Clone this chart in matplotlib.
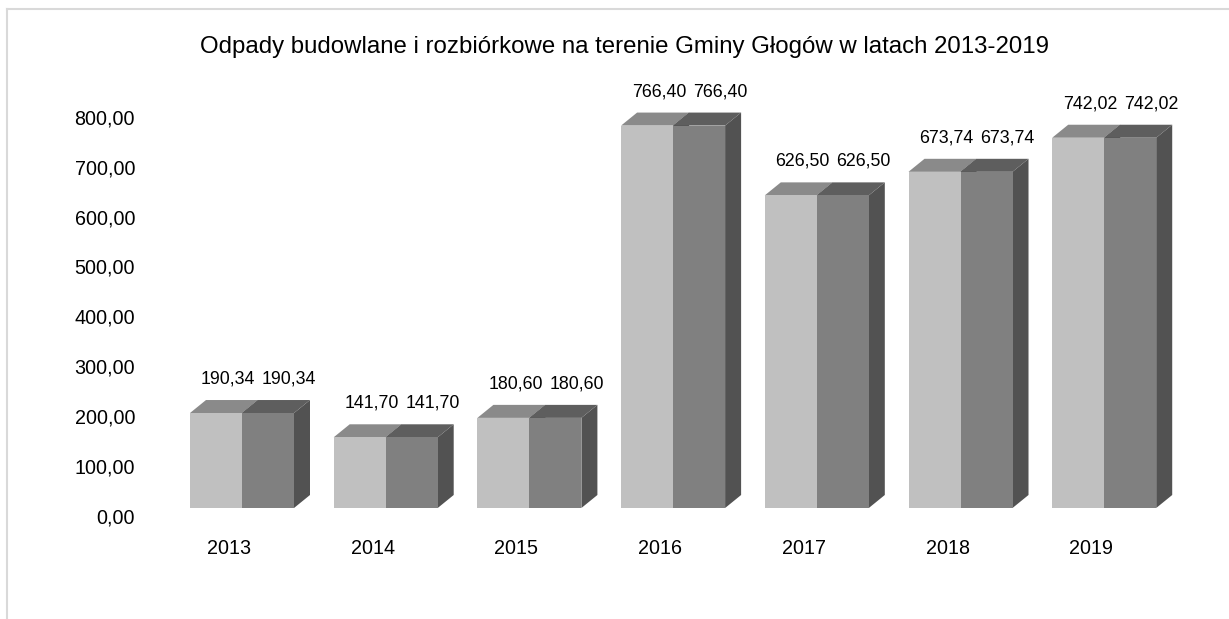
import matplotlib
matplotlib.use("Agg")
import matplotlib.pyplot as plt
from matplotlib.patches import Polygon
from matplotlib.lines import Line2D
from matplotlib.transforms import blended_transform_factory
import numpy as np

plt.rcParams['font.family'] = ['Liberation Sans', 'DejaVu Sans']

title = "Odpady budowlane i rozbiórkowe na terenie Gminy Głogów w latach 2013-2019"
years = ["2013", "2014", "2015", "2016", "2017", "2018", "2019"]
series_a = [190.34, 141.70, 180.60, 766.40, 626.50, 673.74, 742.02]
series_b = [190.34, 141.70, 180.60, 766.40, 626.50, 673.74, 742.02]
y_ticks = [0, 100, 200, 300, 400, 500, 600, 700, 800]

W, H, DPI = 1229, 619, 100
fig = plt.figure(figsize=(W / DPI, H / DPI), dpi=DPI)
fig.patch.set_facecolor('white')

ax_left_px, ax_right_px = 170.15, 1204.8
ax_bottom_px, ax_height_px = 111, 499
ax = fig.add_axes([ax_left_px / W, ax_bottom_px / H,
                   (ax_right_px - ax_left_px) / W, ax_height_px / H])
ax.set_xlim(-0.5, 6.7)
ax.set_ylim(0, 1000)
ax.axis('off')

px_per_x = (ax_right_px - ax_left_px) / 7.2
px_per_y = ax_height_px / 1000.0
ddx = 16 / px_per_x
ddy = 13 / px_per_y
bw = 52 / px_per_x

colors = [
    dict(front='#c0c0c0', top='#8a8a8a', side='#4f4f4f'),
    dict(front='#808080', top='#5e5e5e', side='#525252'),
]

def draw_bar(x0, v, c, z):
    x1 = x0 + bw
    ax.add_patch(Polygon([(x1, 0), (x1 + ddx, ddy), (x1 + ddx, v + ddy), (x1, v)],
                         closed=True, facecolor=c['side'], edgecolor='none', zorder=z))
    ax.add_patch(Polygon([(x0, v), (x0 + ddx, v + ddy), (x1 + ddx, v + ddy), (x1, v)],
                         closed=True, facecolor=c['top'], edgecolor='none', zorder=z))
    ax.bar(x0, v, width=bw, align='edge', color=c['front'], edgecolor='none', zorder=z + 0.5)

x = np.arange(len(years))
for i in range(len(years)):
    draw_bar(x[i] - bw, series_a[i], colors[0], 2)
    draw_bar(x[i], series_b[i], colors[1], 3)

def fmt(v):
    return f"{v:.2f}".replace('.', ',')

for i in range(len(years)):
    ax.annotate(fmt(series_a[i]), (x[i] - bw / 2, series_a[i]), xytext=(12, 34),
                textcoords='offset pixels', ha='center', va='center', fontsize=12.8, color='black', zorder=5)
    ax.annotate(fmt(series_b[i]), (x[i] + bw / 2, series_b[i]), xytext=(21, 34),
                textcoords='offset pixels', ha='center', va='center', fontsize=12.8, color='black', zorder=5)

for i, yl in enumerate(years):
    ax.annotate(yl, (x[i], 0), xytext=(-13, -40), textcoords='offset pixels',
                ha='center', va='center', fontsize=14.2, color='black')

tr = blended_transform_factory(fig.transFigure, ax.transData)
for t in y_ticks:
    ax.annotate(fmt(t), (135 / W, t), xycoords=tr, xytext=(0, -10), textcoords='offset pixels',
                ha='right', va='center', fontsize=14.2, color='black')

fig.text(625 / W, 1 - 47 / H, title, ha='center', va='center', fontsize=17.3, color='black')

fig.add_artist(Line2D([7 / W, 7 / W], [0, 1 - 9 / H], transform=fig.transFigure, color='#d9d9d9', lw=1.5))
fig.add_artist(Line2D([7 / W, 1], [1 - 9 / H, 1 - 9 / H], transform=fig.transFigure, color='#d9d9d9', lw=1.5))

fig.savefig('out.png', dpi=DPI)
